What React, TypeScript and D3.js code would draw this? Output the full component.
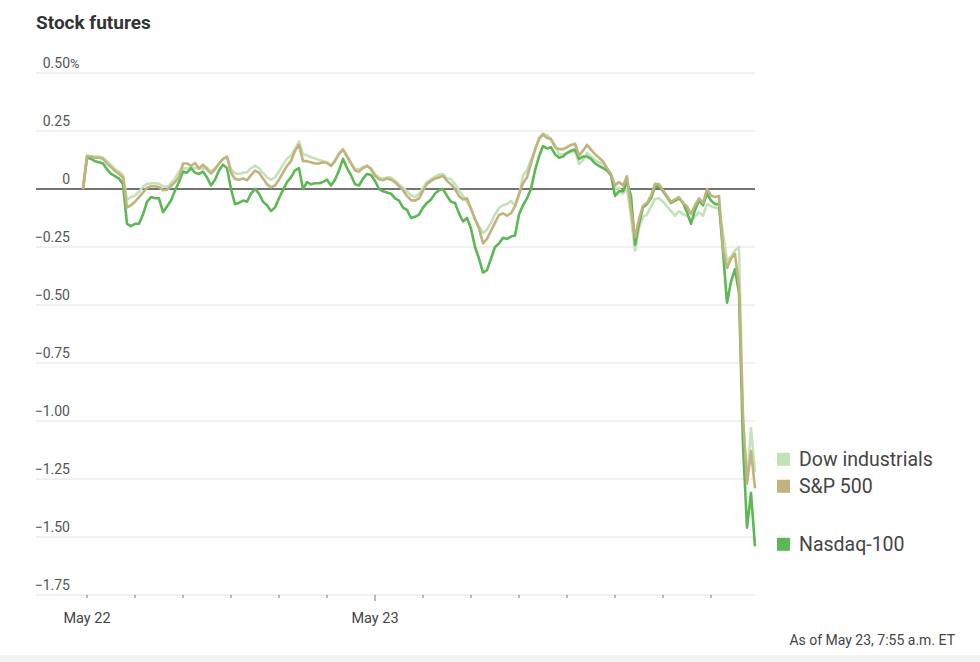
import React from "react";
import * as d3 from "d3";

const title = "Stock futures";
const note = "As of May 23, 7:55 a.m. ET";
const seriesNames = ["Dow industrials", "S&P 500", "Nasdaq-100"];
const seriesColors = ["#c4e2b9", "#c0b37d", "#5cb755"];

// sample spacing: hours relative to May 22 00:00
const startHour = -1 / 3;
const stepHours = 1 / 3;

const yTicks = [0.5, 0.25, 0, -0.25, -0.5, -0.75, -1.0, -1.25, -1.5, -1.75];
const xTickHours = [0, 4, 8, 12, 16, 20, 24, 28, 32, 36, 40, 44, 48, 52];
const xTickLabels: Record<number, string> = { 0: "May 22", 24: "May 23" };

const dow = [
  0.0, 0.145, 0.14, 0.14, 0.14, 0.135, 0.12, 0.105, 0.085, 0.075,
  0.06, -0.045, -0.035, -0.028, -0.012, 0.01, 0.022, 0.025, 0.025, 0.022,
  0.012, 0.01, 0.025, 0.045, 0.075, 0.09, 0.088, 0.092, 0.09, 0.09,
  0.088, 0.093, 0.075, 0.09, 0.108, 0.128, 0.138, 0.085, 0.068, 0.065,
  0.07, 0.072, 0.09, 0.1, 0.09, 0.07, 0.05, 0.04, 0.05, 0.075,
  0.105, 0.13, 0.145, 0.172, 0.205, 0.15, 0.145, 0.137, 0.132, 0.125,
  0.12, 0.115, 0.1, 0.125, 0.155, 0.172, 0.145, 0.115, 0.086, 0.085,
  0.095, 0.1, 0.09, 0.065, 0.05, 0.045, 0.05, 0.05, 0.036, 0.02,
  0.005, -0.01, -0.027, -0.035, -0.02, 0.005, 0.03, 0.042, 0.053, 0.062,
  0.065, 0.045, 0.043, 0.02, -0.005, -0.03, -0.055, -0.085, -0.13, -0.16,
  -0.19, -0.175, -0.145, -0.11, -0.082, -0.07, -0.065, -0.052, -0.07, -0.03,
  0.06, 0.08, 0.125, 0.165, 0.22, 0.24, 0.232, 0.215, 0.19, 0.15,
  0.15, 0.155, 0.16, 0.165, 0.108, 0.125, 0.155, 0.14, 0.125, 0.115,
  0.108, 0.085, 0.06, 0.0, 0.005, -0.02, 0.0, -0.12, -0.266, -0.17,
  -0.12, -0.11, -0.075, -0.043, -0.04, -0.055, -0.075, -0.094, -0.115, -0.095,
  -0.11, -0.115, -0.137, -0.12, -0.1, -0.115, -0.065, -0.075, -0.08, -0.085,
  -0.19, -0.31, -0.29, -0.265, -0.25, -1.0, -1.26, -1.03, -1.22,
];

const sp500 = [
  0.0, 0.14, 0.14, 0.135, 0.135, 0.13, 0.11, 0.095, 0.078, 0.065,
  0.05, -0.08, -0.07, -0.055, -0.035, -0.015, 0.005, 0.012, 0.012, 0.008,
  -0.005, -0.003, 0.012, 0.03, 0.05, 0.11, 0.11, 0.1, 0.112, 0.088,
  0.105, 0.085, 0.067, 0.085, 0.11, 0.13, 0.14, 0.07, 0.043, 0.04,
  0.045, 0.038, 0.06, 0.079, 0.07, 0.045, 0.02, 0.007, 0.015, 0.04,
  0.07, 0.1, 0.12, 0.165, 0.19, 0.12, 0.12, 0.115, 0.11, 0.11,
  0.115, 0.112, 0.1, 0.12, 0.15, 0.17, 0.14, 0.11, 0.08, 0.075,
  0.09, 0.1, 0.085, 0.057, 0.042, 0.038, 0.045, 0.04, 0.029, 0.012,
  -0.005, -0.03, -0.048, -0.05, -0.04, -0.008, 0.022, 0.035, 0.045, 0.05,
  0.057, 0.035, 0.02, 0.0, -0.03, -0.045, -0.04, -0.085, -0.13, -0.17,
  -0.235, -0.215, -0.18, -0.145, -0.112, -0.105, -0.115, -0.105, -0.075, -0.02,
  0.025, 0.05, 0.11, 0.17, 0.215, 0.235, 0.22, 0.215, 0.18, 0.172,
  0.172, 0.18, 0.19, 0.195, 0.145, 0.165, 0.19, 0.17, 0.15, 0.135,
  0.12, 0.09, 0.065, 0.015, 0.03, 0.015, 0.055, -0.09, -0.208, -0.13,
  -0.072, -0.06, -0.03, 0.022, 0.02, -0.005, -0.03, -0.055, -0.045, -0.035,
  -0.06, -0.075, -0.108, -0.07, -0.04, -0.06, 0.0, -0.028, -0.035, -0.03,
  -0.26, -0.34, -0.3, -0.28, -0.42, -0.98, -1.27, -1.13, -1.29,
];

const nasdaq = [
  0.0, 0.135, 0.13, 0.12, 0.115, 0.11, 0.085, 0.065, 0.055, 0.045,
  0.02, -0.15, -0.16, -0.15, -0.15, -0.11, -0.055, -0.035, -0.04, -0.04,
  -0.1, -0.075, -0.05, -0.007, 0.03, 0.075, 0.07, 0.09, 0.07, 0.065,
  0.075, 0.05, 0.015, 0.04, 0.08, 0.105, 0.09, 0.0, -0.065, -0.06,
  -0.05, -0.055, -0.02, 0.0, -0.02, -0.055, -0.07, -0.095, -0.08, -0.04,
  -0.005, 0.03, 0.05, 0.08, 0.09, 0.0, 0.03, 0.02, 0.025, 0.025,
  0.03, 0.04, 0.015, 0.04, 0.08, 0.13, 0.09, 0.06, 0.02, 0.015,
  0.045, 0.065, 0.06, 0.035, 0.0, -0.01, -0.015, -0.02, -0.04, -0.05,
  -0.08, -0.09, -0.125, -0.12, -0.11, -0.08, -0.06, -0.045, -0.02, -0.005,
  0.0, -0.03, -0.055, -0.06, -0.105, -0.14, -0.125, -0.17, -0.25, -0.3,
  -0.36, -0.35, -0.3, -0.25, -0.235, -0.21, -0.215, -0.205, -0.2, -0.11,
  -0.07, -0.04, 0.0, 0.08, 0.14, 0.185, 0.175, 0.18, 0.15, 0.135,
  0.14, 0.155, 0.165, 0.17, 0.13, 0.14, 0.14, 0.13, 0.11, 0.1,
  0.09, 0.08, 0.06, -0.03, -0.01, -0.01, 0.03, -0.03, -0.24, -0.15,
  -0.08, -0.065, -0.04, 0.01, 0.015, -0.01, -0.035, -0.06, -0.05, -0.04,
  -0.06, -0.1, -0.15, -0.09, -0.05, -0.07, -0.02, -0.05, -0.065, -0.065,
  -0.27, -0.49, -0.4, -0.345, -0.45, -1.1, -1.46, -1.31, -1.54,
];

const seriesData = [dow, sp500, nasdaq];
const drawOrder = [0, 2, 1];

const W = 980;
const H = 662;
const FONT = "Roboto, 'Noto Sans', sans-serif";

export default function App() {
  const n = nasdaq.length;
  const hours = d3.range(n).map((i) => startHour + i * stepHours);
  const x = d3.scaleLinear().domain([hours[0], hours[n - 1]]).range([83, 755]);
  const y = d3.scaleLinear().domain([0.5, -1.75]).range([73, 595]);
  const gridLeft = 36;
  const gridRight = 755;

  const line = d3
    .line<number>()
    .x((_, i) => x(hours[i]))
    .y((d) => y(d));

  // legend positions from last values with collision avoidance
  const lastYs = seriesData.map((s) => y(s[s.length - 1]));
  const order = d3.range(seriesData.length).sort((a, b) => lastYs[b] - lastYs[a]);
  const legendY: number[] = [];
  let prev = Infinity;
  order.forEach((k) => {
    const ly = Math.min(lastYs[k] - 2, prev - 27);
    legendY[k] = ly;
    prev = ly;
  });

  const fmt = d3.format(".2f");

  return (
    <svg
      width={W}
      height={H}
      style={{ position: "absolute", left: 0, top: 0, background: "#fff" }}
      fontFamily={FONT}
    >
      <rect x={0} y={0} width={W} height={H} fill="#fff" />
      <rect x={0} y={655} width={W} height={H - 655} fill="#f4f4f4" />
      <text x={36} y={29} fontSize={19} fontWeight={700} fill="#333">
        {title}
      </text>

      {yTicks.map((t) => (
        <g key={t}>
          <line
            x1={gridLeft}
            x2={gridRight}
            y1={y(t)}
            y2={y(t)}
            stroke={t === 0 ? "#444" : "#e2e2e2"}
            strokeWidth={t === 0 ? 1.3 : 1}
          />
          <text
            x={70}
            y={y(t) - 5}
            textAnchor="end"
            fontSize={14}
            fill="#555"
          >
            {t === 0 ? "0" : fmt(t)}
          </text>
          {t === yTicks[0] && (
            <text x={70} y={y(t) - 5} fontSize={13} fill="#555">
              %
            </text>
          )}
        </g>
      ))}

      {xTickHours.map((h) => (
        <g key={h}>
          <line
            x1={x(h)}
            x2={x(h)}
            y1={y(-1.75)}
            y2={y(-1.75) + (h === 24 ? 6 : 3)}
            stroke="#777"
            strokeWidth={1}
          />
          {xTickLabels[h] && (
            <text
              x={x(h)}
              y={y(-1.75) + 28}
              textAnchor="middle"
              fontSize={14.5}
              fill="#444"
            >
              {xTickLabels[h]}
            </text>
          )}
        </g>
      ))}

      {drawOrder.map((k) => (
        <path
          key={k}
          d={line(seriesData[k]) || ""}
          fill="none"
          stroke={seriesColors[k]}
          strokeWidth={2.6}
          strokeLinejoin="round"
        />
      ))}

      {seriesNames.map((name, k) => (
        <g key={name}>
          <rect
            x={777}
            y={legendY[k] - 6.5}
            width={13}
            height={13}
            fill={seriesColors[k]}
          />
          <text
            x={799}
            y={legendY[k] + 6.5}
            fontSize={19.5}
            fill="#444"
          >
            {name}
          </text>
        </g>
      ))}

      <text x={955} y={645} textAnchor="end" fontSize={14} fill="#444">
        {note}
      </text>
    </svg>
  );
}
